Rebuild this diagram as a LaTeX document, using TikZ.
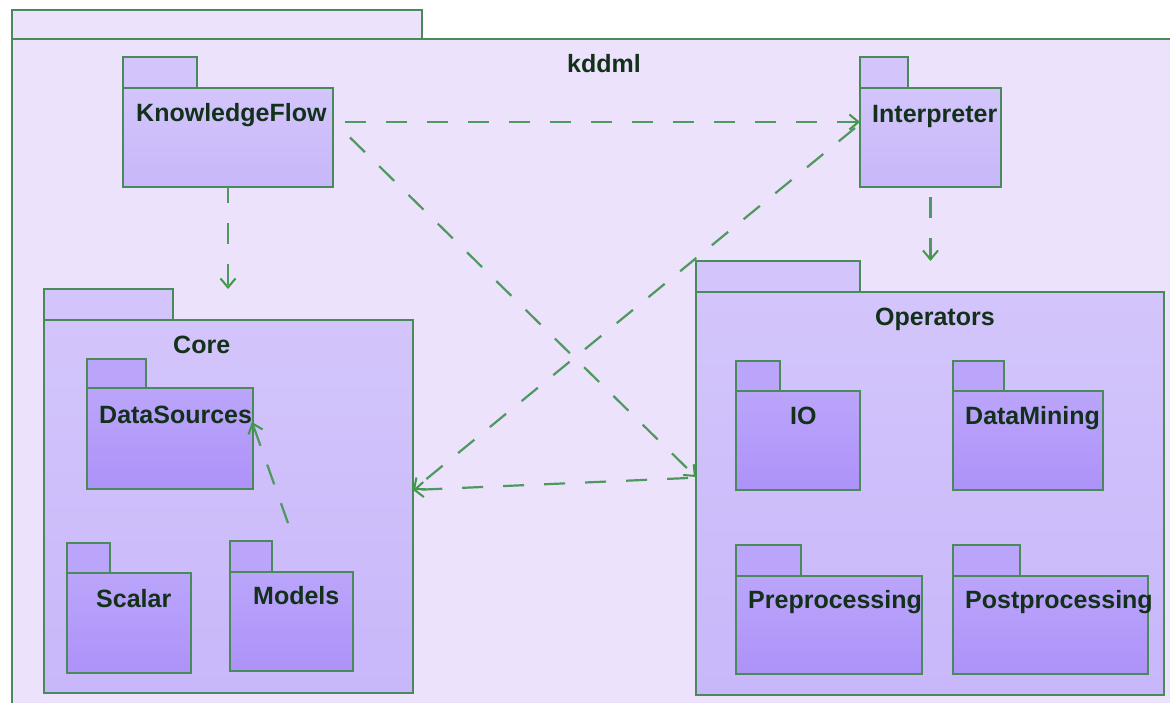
\documentclass[tikz,border=0pt]{standalone}
\usepackage{fontspec}
\setmainfont{Liberation Sans}
\usetikzlibrary{arrows.meta}

\definecolor{edge}{HTML}{4A8A5A}
\definecolor{wire}{HTML}{4F985F}
\definecolor{tipcol}{HTML}{3E9A45}
\definecolor{ink}{HTML}{12301A}
\definecolor{outerfill}{HTML}{ECE2FB}
\definecolor{midtop}{HTML}{D3C5FB}
\definecolor{midbot}{HTML}{C8B7FA}
\definecolor{intop}{HTML}{BBA5FA}
\definecolor{inbot}{HTML}{AD92F9}

\tikzset{
  pkgline/.style={draw=edge, line width=2.2pt, inner sep=0pt, outer sep=0pt},
  outertab/.style={pkgline, fill=outerfill},
  outerbody/.style={pkgline, fill=outerfill},
  midtab/.style={pkgline, fill=midtop},
  midbody/.style={pkgline, top color=midtop, bottom color=midbot},
  intab/.style={pkgline, fill=intop},
  inbody/.style={pkgline, top color=intop, bottom color=inbot},
  pkgname/.style={anchor=base west, inner sep=0pt, text=ink,
    font=\fontsize{25}{30}\selectfont\bfseries},
  dep/.style={draw=wire, line width=2.2pt, dash pattern=on 21pt off 20pt,
    -{Straight Barb[length=9pt,width=15pt,line width=2pt,color=tipcol]}},
}

% #1 name, #2 tab style, #3 body style,
% #4 left, #5 tab top, #6 tab right, #7 body top, #8 right, #9 bottom
\newcommand\umlpkg[9]{%
  \node[#2, minimum width={(#6-#4)*1pt}, minimum height={(#7-#5)*1pt}]
    (#1-tab) at ({(#4+#6)/2},{(#5+#7)/2}) {};
  \node[#3, minimum width={(#8-#4)*1pt}, minimum height={(#9-#7)*1pt}]
    (#1) at ({(#4+#8)/2},{(#7+#9)/2}) {};
}

\begin{document}
\begin{tikzpicture}[x=1pt, y=-1pt]
\useasboundingbox (0,0) rectangle (1170,702);
\clip (0,0) rectangle (1170,702);
\fill[white] (0,0) rectangle (1170,702);

% enclosing package
\umlpkg{kddml}{outertab}{outerbody}{12}{10}{422}{39}{1200}{730}
\node[pkgname] (kddml-name) at (567,72) {kddml};

% top-level packages
\umlpkg{kf}{midtab}{midbody}{123}{57}{197}{88}{333}{187}
\umlpkg{interp}{midtab}{midbody}{860}{57}{908}{88}{1001}{187}
\umlpkg{core}{midtab}{midbody}{44}{289}{173}{320}{413}{693}
\umlpkg{ops}{midtab}{midbody}{696}{261}{860}{292}{1164}{695}

% nested in Core
\umlpkg{ds}{intab}{inbody}{87}{359}{146}{388}{253}{489}
\umlpkg{scalar}{intab}{inbody}{67}{543}{110}{573}{191}{673}
\umlpkg{models}{intab}{inbody}{230}{541}{272}{572}{353}{671}

% nested in Operators
\umlpkg{io}{intab}{inbody}{736}{361}{780}{391}{860}{490}
\umlpkg{dm}{intab}{inbody}{953}{361}{1004}{391}{1103}{490}
\umlpkg{pre}{intab}{inbody}{736}{545}{801}{576}{922}{674}
\umlpkg{post}{intab}{inbody}{953}{545}{1020}{576}{1148}{674}

% names
\node[pkgname] (kf-name) at (136,121) {KnowledgeFlow};
\node[pkgname] (interp-name) at (872,122) {Interpreter};
\node[pkgname] (core-name) at (173,353) {Core};
\node[pkgname] (ops-name) at (875,325) {Operators};
\node[pkgname] (ds-name) at (99,423) {DataSources};
\node[pkgname] (scalar-name) at (96,607) {Scalar};
\node[pkgname] (models-name) at (253,604) {Models};
\node[pkgname] (io-name) at (790,424) {IO};
\node[pkgname] (dm-name) at (965,424) {DataMining};
\node[pkgname] (pre-name) at (748,608) {Preprocessing};
\node[pkgname] (post-name) at (965,608) {Postprocessing};

% dependencies
\draw[dep] ([xshift=12pt,yshift=15.5pt]kf.east) -- ([yshift=15.5pt]interp.west);
\draw[dep] ([xshift=17pt]kf.east) -- ([yshift=16.5pt]ops.west);
\draw[dep] ([xshift=-5pt,yshift=9.5pt]interp.west) -- ([yshift=16.5pt]core.east);
\draw[dep] ([xshift=-8pt,yshift=15.5pt]ops.west) -- ([yshift=16.5pt]core.east);
\draw[dep, dash phase=5pt] (kf.south) -- (kf.south |- core-tab.north);
\draw[dep, dash phase=31pt] (interp.south) -- (interp.south |- ops-tab.north);
\draw[dep] ([xshift=-3.5pt,yshift=49pt]models.north) -- ([xshift=-1pt,yshift=16.5pt]ds.east);
\end{tikzpicture}
\end{document}
